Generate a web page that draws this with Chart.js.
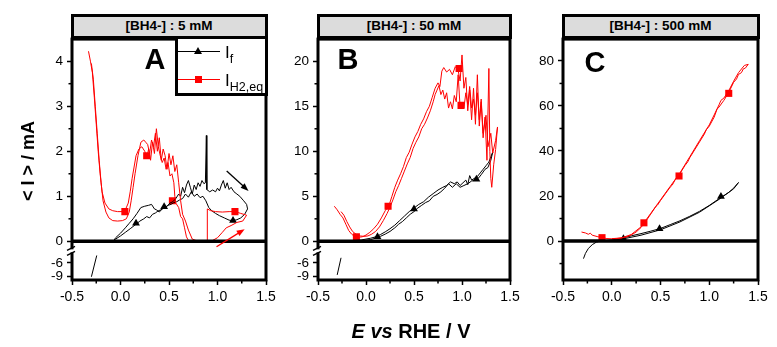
<!DOCTYPE html>
<html>
<head>
<meta charset="utf-8">
<script src="https://cdn.jsdelivr.net/npm/chart.js@4.4.1/dist/chart.umd.min.js"></script>
<style>
  body { margin: 0; width: 777px; height: 347px; background: #fff; position: relative; overflow: hidden;
         font-family: "Liberation Sans", Arial, sans-serif; color: #000; }
  canvas { position: absolute; top: 27px; }
  .head { position: absolute; top: 14px; height: 24.5px; box-sizing: border-box; border: 3px solid #000;
          background: #dcdcdc; font-weight: bold; font-size: 13.5px; line-height: 18.5px; text-align: center; }
  .tag { position: absolute; top: 45px; width: 30px; text-align: center; font-weight: bold; font-size: 29px; line-height: 29px; }
  #legend { position: absolute; left: 175px; top: 35.5px; width: 92.5px; height: 60.5px; box-sizing: border-box;
            border: 3px solid #000; background: #fff; }
  #legend div { position: absolute; }
  .lbl { font-size: 17px; line-height: 17px; }
  .lbl sub { font-size: 12.5px; vertical-align: -5px; }
  #ytitle { position: absolute; left: 28px; top: 161px; width: 120px; text-align: center; font-weight: bold; font-size: 18px;
            line-height: 18px; transform: translate(-50%, -50%) rotate(-90deg); white-space: nowrap; }
  #xtitle { position: absolute; left: 411px; top: 321px; transform: translateX(-50%); font-weight: bold; font-size: 20px;
            line-height: 20px; white-space: nowrap; }
</style>
</head>
<body>
<div class="head" id="headA" style="left:70.5px;width:197px"></div>
<div class="head" id="headB" style="left:316.5px;width:195px"></div>
<div class="head" id="headC" style="left:561.5px;width:198px"></div>

<canvas id="chartA" width="264" height="288" style="left:17px"></canvas>
<canvas id="chartB" width="262" height="288" style="left:263px"></canvas>
<canvas id="chartC" width="265" height="288" style="left:508px"></canvas>

<div class="tag" id="tagA" style="left:140px"></div>
<div class="tag" id="tagB" style="left:333px"></div>
<div class="tag" id="tagC" style="left:580px;top:48px"></div>

<div id="legend">
  <div style="left:0;top:12.5px;width:42px;height:1px;background:#000"></div>
  <div style="left:15.5px;top:8.5px;width:0;height:0;border-left:4.5px solid transparent;border-right:4.5px solid transparent;border-bottom:7px solid #000"></div>
  <div class="lbl" style="left:47px;top:5px">I<sub>f</sub></div>
  <div style="left:0;top:40.5px;width:42px;height:1px;background:#f00"></div>
  <div style="left:16.5px;top:37.5px;width:7px;height:7px;background:#f00"></div>
  <div class="lbl" style="left:47px;top:33px">I<sub>H2,eq</sub></div>
</div>

<div id="ytitle">&lt; I &gt; / mA</div>
<div id="xtitle"><i>E</i> <i>vs</i> RHE / V</div>

<script>
// ---- labels ----
const concLabels = ['[BH4-] : 5 mM', '[BH4-] : 50 mM', '[BH4-] : 500 mM'];
const panelTags = ['A', 'B', 'C'];

// ---- tick values ----
const xTicks = [-0.5, 0, 0.5, 1, 1.5];
const xMinor = [-0.25, 0.25, 0.75, 1.25];
const yTicksA = [0, 1, 2, 3, 4];
const yMinorA = [0.5, 1.5, 2.5, 3.5];
const yTicksB = [0, 5, 10, 15, 20];
const yMinorB = [2.5, 7.5, 12.5, 17.5];
const yTicksC = [0, 20, 40, 60, 80];
const yMinorC = [-10, 10, 30, 50, 70];
const yTicksLow = [-6, -9];

// ---- panel A (5 mM) : [E, I] ----
const redA = [[-0.33,4.22],[-0.31,4.0],[-0.29,3.75],[-0.27,3.2],[-0.25,2.6],[-0.23,2.0],[-0.21,1.5],[-0.19,1.1],
  [-0.16,0.85],[-0.12,0.72],[-0.08,0.68],[-0.03,0.66],[0.02,0.66],[0.05,0.7],[0.08,0.85],[0.1,1.1],[0.12,1.4],
  [0.14,1.65],[0.16,1.9],[0.19,2.05],[0.22,2.1],[0.25,2.0],[0.27,1.85],[0.29,2.05],[0.31,1.8],[0.33,2.2],[0.35,1.95],
  [0.37,2.5],[0.39,2.1],[0.41,1.9],[0.43,1.75],[0.45,1.85],[0.47,1.6],[0.49,1.75],[0.51,1.45],[0.53,1.5],[0.55,1.3],
  [0.56,1.0],[0.57,0.85],[0.6,0.75],[0.62,0.55],[0.64,0.5],[0.66,0.3],[0.68,0.1],[0.7,0.02],[0.75,0.0],[0.8,0.01],
  [0.86,0.0],[0.895,0.0],[0.895,0.72],[0.93,0.68],[0.98,0.66],[1.05,0.65],[1.12,0.66],[1.18,0.66],[1.24,0.62],
  [1.3,0.58],[1.26,0.45],[1.2,0.42],[1.14,0.35],[1.09,0.3],[1.05,0.2],[1.0,0.08],[0.95,0.02],[0.88,0.0],[0.8,0.0],
  [0.74,0.05],[0.7,0.25],[0.67,0.45],[0.64,0.6],[0.62,0.9],[0.6,1.3],[0.58,1.7],[0.56,1.55],[0.54,1.9],[0.52,1.7],
  [0.5,1.95],[0.48,1.6],[0.46,1.9],[0.44,2.05],[0.42,1.8],[0.4,2.3],[0.38,2.0],[0.36,2.4],[0.34,2.1],[0.32,2.25],
  [0.3,1.95],[0.28,2.15],[0.26,2.2],[0.24,2.25],[0.21,2.2],[0.18,1.9],[0.15,1.5],[0.13,1.2],[0.11,0.9],[0.09,0.65],
  [0.06,0.5],[0.02,0.46],[-0.03,0.45],[-0.08,0.46],[-0.12,0.52],[-0.15,0.65],[-0.18,0.9],[-0.2,1.3],[-0.22,1.8],
  [-0.24,2.4],[-0.26,3.0],[-0.28,3.6],[-0.3,3.95]];
const redMarkA = [[0.045,0.66],[0.27,1.9],[0.535,0.9],[1.18,0.66]];
const blackA = [[-0.13,-0.18],[-0.1,-0.05],[-0.05,0.05],[0.0,0.12],[0.05,0.2],[0.1,0.28],[0.16,0.38],[0.2,0.45],
  [0.24,0.5],[0.27,0.55],[0.3,0.52],[0.33,0.6],[0.36,0.63],[0.39,0.68],[0.42,0.7],[0.45,0.76],[0.48,0.78],[0.51,0.85],
  [0.54,0.88],[0.57,0.95],[0.6,1.05],[0.62,1.0],[0.64,1.2],[0.66,1.08],[0.68,1.25],[0.7,1.35],[0.72,1.2],[0.74,1.05],
  [0.76,1.25],[0.78,1.15],[0.8,1.3],[0.82,1.22],[0.84,1.35],[0.86,1.28],[0.875,1.3],[0.885,2.35],[0.89,1.15],
  [0.92,1.1],[0.95,1.14],[0.98,1.1],[1.0,1.18],[1.02,1.12],[1.04,1.25],[1.06,1.35],[1.08,1.18],[1.1,1.3],[1.12,1.15],
  [1.14,1.2],[1.17,1.1],[1.2,1.05],[1.23,1.0],[1.27,0.9],[1.3,0.82],[1.31,0.72],[1.28,0.6],[1.24,0.52],[1.2,0.48],
  [1.16,0.46],[1.12,0.47],[1.07,0.52],[1.02,0.57],[0.98,0.62],[0.94,0.68],[0.91,0.75],[0.88,0.9],[0.85,1.0],
  [0.82,0.97],[0.79,1.05],[0.76,1.0],[0.73,1.1],[0.7,0.98],[0.67,1.05],[0.64,0.95],[0.61,0.92],[0.58,0.88],
  [0.55,0.86],[0.52,0.82],[0.49,0.8],[0.46,0.74],[0.43,0.72],[0.4,0.65],[0.37,0.7],[0.35,0.72],[0.32,0.82],
  [0.29,0.8],[0.25,0.78],[0.21,0.75],[0.17,0.62],[0.13,0.5],[0.09,0.4],[0.05,0.3],[0.0,0.18],[-0.05,0.08],
  [-0.1,-0.08],[-0.13,-0.2]];
const blackLowA = [[-0.3,-9.0],[-0.245,-4.4]];
const blackMarkA = [[0.16,0.4],[0.45,0.77],[1.16,0.46]];
const arrowsA = [[1.095,1.56,1.32,1.12,'#000'],[0.99,-0.12,1.28,0.27,'#f00']];

// ---- panel B (50 mM) ----
const redB = [[-0.33,3.9],[-0.3,3.5],[-0.27,3.0],[-0.24,2.6],[-0.21,1.9],[-0.18,1.2],[-0.15,0.8],[-0.12,0.55],
  [-0.08,0.45],[-0.04,0.5],[0.0,0.7],[0.04,1.0],[0.08,1.4],[0.12,1.9],[0.16,2.6],[0.2,3.4],[0.24,4.0],[0.27,5.0],
  [0.3,6.0],[0.33,6.8],[0.36,7.5],[0.39,8.3],[0.42,9.3],[0.45,9.9],[0.48,10.8],[0.51,11.6],[0.54,12.2],[0.57,13.0],
  [0.6,13.6],[0.63,14.4],[0.66,15.0],[0.69,16.0],[0.72,17.0],[0.75,17.6],[0.77,17.2],[0.79,18.9],[0.81,19.3],
  [0.84,18.8],[0.87,19.1],[0.9,18.5],[0.93,19.4],[0.96,19.0],[0.98,17.8],[1.0,20.7],[1.02,17.0],[1.04,18.2],
  [1.06,14.5],[1.08,16.8],[1.1,13.5],[1.12,17.0],[1.14,13.0],[1.16,18.5],[1.18,12.8],[1.2,15.5],[1.22,11.5],
  [1.24,13.8],[1.26,9.0],[1.28,19.2],[1.29,10.0],[1.3,7.0],[1.31,6.0],[1.33,8.5],[1.35,10.2],[1.37,12.7],
  [1.35,11.2],[1.32,9.8],[1.3,12.0],[1.27,10.5],[1.25,14.0],[1.22,12.0],[1.2,15.8],[1.18,13.5],[1.16,16.5],
  [1.14,14.0],[1.12,15.8],[1.1,14.8],[1.08,17.2],[1.06,15.2],[1.04,16.5],[1.02,14.8],[1.0,15.2],[0.98,14.9],
  [0.96,18.5],[0.94,15.5],[0.92,16.2],[0.9,14.7],[0.88,15.5],[0.86,14.8],[0.84,16.5],[0.82,15.8],[0.8,16.8],
  [0.78,16.3],[0.76,17.3],[0.74,16.8],[0.72,16.3],[0.7,15.5],[0.67,14.5],[0.64,13.7],[0.61,13.0],[0.58,12.5],
  [0.55,11.6],[0.52,11.0],[0.49,10.3],[0.46,9.3],[0.43,8.6],[0.4,7.8],[0.37,7.0],[0.34,6.2],[0.31,5.5],[0.28,4.6],
  [0.25,3.8],[0.22,3.1],[0.18,2.3],[0.14,1.6],[0.1,1.1],[0.06,0.8],[0.02,0.6],[-0.02,0.55],[-0.06,0.6],[-0.1,0.75],
  [-0.14,1.1],[-0.17,1.6],[-0.2,2.2],[-0.23,2.9],[-0.26,3.3]];
const redMarkB = [[-0.1,0.5],[0.23,3.9],[0.97,19.2],[0.99,15.1]];
const blackB = [[-0.2,-1.0],[-0.17,-0.5],[-0.14,0.05],[-0.1,0.1],[-0.05,0.15],[0.0,0.25],[0.05,0.35],[0.1,0.5],
  [0.15,0.75],[0.2,1.05],[0.25,1.4],[0.3,1.8],[0.35,2.3],[0.4,2.8],[0.45,3.3],[0.5,3.7],[0.55,4.1],[0.6,4.4],
  [0.65,4.9],[0.7,5.3],[0.75,5.7],[0.8,6.0],[0.84,6.2],[0.88,6.6],[0.92,6.4],[0.95,6.6],[0.98,6.2],[1.01,6.5],
  [1.04,6.8],[1.06,6.3],[1.08,7.3],[1.1,6.8],[1.13,7.0],[1.16,7.2],[1.19,7.6],[1.22,8.0],[1.25,8.4],[1.28,8.8],
  [1.3,9.4],[1.32,9.9],[1.3,9.0],[1.27,8.2],[1.24,8.0],[1.2,7.4],[1.17,7.0],[1.14,6.8],[1.1,6.7],[1.06,6.4],
  [1.02,6.2],[0.98,6.0],[0.94,6.4],[0.9,6.0],[0.86,6.4],[0.82,5.9],[0.78,5.5],[0.74,5.2],[0.7,5.0],[0.66,4.5],
  [0.62,4.3],[0.58,4.0],[0.54,3.7],[0.5,3.3],[0.46,3.0],[0.42,2.6],[0.38,2.2],[0.34,1.9],[0.3,1.5],[0.25,1.1],
  [0.2,0.8],[0.15,0.55],[0.1,0.35],[0.05,0.2],[0.0,0.12],[-0.05,0.05],[-0.1,0.0],[-0.14,-0.1]];
const blackLowB = [[-0.3,-8.6],[-0.26,-4.9]];
const blackMarkB = [[0.12,0.5],[0.5,3.6],[1.15,6.9]];

// ---- panel C (500 mM) ----
const redC = [[-0.31,4.0],[-0.27,3.6],[-0.24,3.0],[-0.22,3.5],[-0.2,2.6],[-0.15,2.0],[-0.1,1.5],[-0.05,1.1],
  [0.0,1.0],[0.05,1.1],[0.1,1.4],[0.15,1.8],[0.2,2.7],[0.25,4.0],[0.3,6.0],[0.35,8.8],[0.4,12.0],[0.45,15.2],
  [0.47,16.0],[0.5,18.0],[0.55,21.0],[0.6,24.0],[0.62,24.8],[0.65,27.2],[0.7,30.0],[0.75,33.5],[0.78,35.2],
  [0.8,37.0],[0.85,40.5],[0.9,44.0],[0.95,47.5],[0.97,49.5],[1.0,51.0],[1.05,55.0],[1.08,58.6],[1.1,59.5],
  [1.15,62.5],[1.2,66.0],[1.25,70.5],[1.28,72.0],[1.3,74.0],[1.33,74.8],[1.35,76.5],[1.37,76.8],[1.4,78.5],
  [1.36,78.0],[1.3,74.8],[1.25,71.0],[1.2,66.8],[1.15,63.5],[1.12,62.5],[1.1,60.5],[1.05,56.0],[1.0,51.6],
  [0.9,44.6],[0.8,37.4],[0.7,30.3],[0.6,24.3],[0.5,18.3],[0.4,12.3],[0.3,6.3],[0.2,2.9],[0.1,1.4],[0.0,1.05]];
const redMarkC = [[-0.1,1.5],[0.33,8.1],[0.69,28.9],[1.2,65.6]];
const blackC = [[-0.29,-7.8],[-0.27,-5.5],[-0.24,-3.3],[-0.2,-1.6],[-0.155,-0.4],[-0.1,0.1],[-0.05,0.3],[0.0,0.5],
  [0.1,1.2],[0.2,2.3],[0.3,3.3],[0.4,4.4],[0.5,5.6],[0.6,7.3],[0.7,9.0],[0.8,11.0],[0.9,13.2],[1.0,15.8],
  [1.1,18.8],[1.2,21.6],[1.25,23.5],[1.3,26.0],[1.25,23.2],[1.1,18.5],[0.9,12.8],[0.7,8.5],[0.5,5.0],[0.3,2.6],
  [0.1,0.8],[-0.05,0.2],[-0.155,-0.3]];
const blackMarkC = [[0.12,1.0],[0.49,5.5],[1.12,19.8]];

panelTags.forEach((t, i) => {
  document.getElementById('tag' + t).textContent = t;
  document.getElementById('head' + t).textContent = concLabels[i];
});

Chart.defaults.font.family = '"Liberation Sans", Arial, sans-serif';
Chart.defaults.color = '#000';

const pts = arr => arr.map(p => ({ x: p[0], y: p[1] }));

function line(ctx, x1, y1, x2, y2) {
  ctx.beginPath(); ctx.moveTo(x1, y1); ctx.lineTo(x2, y2); ctx.stroke();
}

// frame, zero line, minor ticks, axis break and arrows
const framePlugin = {
  id: 'frame',
  afterDatasetsDraw(chart, args, opts) {
    const { ctx, chartArea: a, scales } = chart;
    ctx.save();
    ctx.strokeStyle = '#000';
    ctx.lineWidth = 1.5;
    xMinor.forEach(v => {
      const px = scales.x.getPixelForValue(v);
      line(ctx, px, a.bottom, px, a.bottom + 3.5);
    });
    opts.yMinor.forEach(v => {
      const py = scales.y.getPixelForValue(v);
      line(ctx, a.left - 3.5, py, a.left, py);
    });
    const z = scales.y.getPixelForValue(0);
    ctx.lineWidth = 3.5;
    line(ctx, a.left, z, a.right, z);
    ctx.lineWidth = 3;
    ctx.strokeRect(a.left, a.top, a.right - a.left, a.bottom - a.top);
    if (opts.brk) {
      ctx.fillStyle = '#fff';
      ctx.fillRect(a.left - 2, z + 8, 4, 3);
      ctx.lineWidth = 1.5;
      line(ctx, a.left - 5, z + 9, a.left + 3, z + 5);
      line(ctx, a.left - 5, z + 14, a.left + 3, z + 10);
    }
    (opts.arrows || []).forEach(ar => {
      const x1 = scales.x.getPixelForValue(ar[0]), y1 = scales.y.getPixelForValue(ar[1]);
      const x2 = scales.x.getPixelForValue(ar[2]), y2 = scales.y.getPixelForValue(ar[3]);
      const ang = Math.atan2(y2 - y1, x2 - x1);
      ctx.strokeStyle = ar[4]; ctx.fillStyle = ar[4]; ctx.lineWidth = 1.3;
      line(ctx, x1, y1, x2 - 5 * Math.cos(ang), y2 - 5 * Math.sin(ang));
      ctx.beginPath();
      ctx.moveTo(x2, y2);
      ctx.lineTo(x2 - 8 * Math.cos(ang) + 3 * Math.sin(ang), y2 - 8 * Math.sin(ang) - 3 * Math.cos(ang));
      ctx.lineTo(x2 - 8 * Math.cos(ang) - 3 * Math.sin(ang), y2 - 8 * Math.sin(ang) + 3 * Math.cos(ang));
      ctx.closePath(); ctx.fill();
    });
    ctx.restore();
  }
};

function yScale(min, max, ticks, extra) {
  return Object.assign({
    type: 'linear', min: min, max: max,
    afterBuildTicks: s => { s.ticks = ticks.map(v => ({ value: v })); },
    afterFit: s => { s.width = 55; },
    ticks: { autoSkip: false, padding: 4, font: { size: 13.5 }, callback: v => String(v) },
    grid: { drawOnChartArea: false, tickLength: 5, tickWidth: 1.5, tickColor: '#000' },
    border: { display: false }
  }, extra || {});
}

function trace(data, color, axis) {
  return { data: pts(data), yAxisID: axis || 'y', showLine: true, borderColor: color, borderWidth: 1,
           pointRadius: 0, tension: 0 };
}

function marks(data, color, style) {
  return { data: pts(data), yAxisID: 'y', showLine: false, pointStyle: style, backgroundColor: color,
           borderColor: color, borderWidth: 0, pointRadius: style === 'rect' ? 5 : 4.5 };
}

function buildPanel(id, p) {
  const scales = {
    x: {
      type: 'linear', min: -0.5, max: 1.5,
      afterBuildTicks: s => { s.ticks = xTicks.map(v => ({ value: v })); },
      afterFit: s => { s.height = 35; },
      ticks: { autoSkip: false, maxRotation: 0, padding: 4, font: { size: 14 }, callback: v => v.toFixed(1) },
      grid: { drawOnChartArea: false, tickLength: 5, tickWidth: 1.5, tickColor: '#000' },
      border: { display: false }
    }
  };
  // stacked left axes: the one declared later ends up on top
  if (p.low) scales.y2 = yScale(-9.7, -1.34, yTicksLow, { stack: 'v', stackWeight: 39 });
  scales.y = yScale(p.yMin, p.yMax, p.yTicks, p.low ? { stack: 'v', stackWeight: 204 } : {});

  const datasets = [trace(p.red, '#ff0000'), trace(p.black, '#000000')];
  if (p.low) datasets.push(trace(p.blackLow, '#000000', 'y2'));
  datasets.push(marks(p.redMark, '#ff0000', 'rect'), marks(p.blackMark, '#000000', 'triangle'));

  return new Chart(document.getElementById(id), {
    type: 'scatter',
    data: { datasets: datasets },
    options: {
      responsive: false, animation: false, devicePixelRatio: 1,
      layout: { padding: { top: 10, right: 15, left: 0, bottom: 0 } },
      scales: scales,
      plugins: { legend: { display: false }, tooltip: { enabled: false },
                 frame: { yMinor: p.yMinor, brk: !!p.low, arrows: p.arrows } }
    },
    plugins: [framePlugin]
  });
}

buildPanel('chartA', { yMin: 0, yMax: 4.49, yTicks: yTicksA, yMinor: yMinorA, low: true,
  red: redA, black: blackA, blackLow: blackLowA, redMark: redMarkA, blackMark: blackMarkA, arrows: arrowsA });
buildPanel('chartB', { yMin: 0, yMax: 22.46, yTicks: yTicksB, yMinor: yMinorB, low: true,
  red: redB, black: blackB, blackLow: blackLowB, redMark: redMarkB, blackMark: blackMarkB });
buildPanel('chartC', { yMin: -17.3, yMax: 89.7, yTicks: yTicksC, yMinor: yMinorC, low: false,
  red: redC, black: blackC, redMark: redMarkC, blackMark: blackMarkC });
</script>
</body>
</html>
